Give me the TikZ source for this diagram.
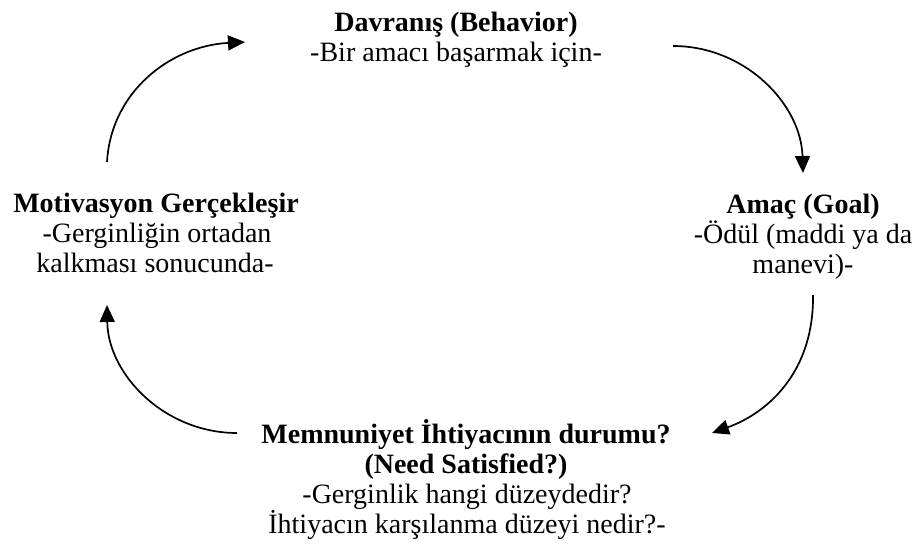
\documentclass[tikz,border=0pt]{standalone}
\usepackage{fontspec}
\setmainfont{Liberation Serif}
\usetikzlibrary{arrows.meta}
\tikzset{
  txt/.style={anchor=base, inner sep=0pt, font=\fontsize{28}{30}\selectfont},
  ttl/.style={txt, font=\fontsize{28}{30}\selectfont\bfseries},
  cyc/.style={line width=1.7pt, -{Triangle[length=17pt,width=15pt]}}
}
\begin{document}
\begin{tikzpicture}[x=1pt,y=-1pt]
\useasboundingbox (0,0) rectangle (920,552);
% top
\node[ttl] (t1) at (456,31) {Davranış (Behavior)};
\node[txt] (t2) at (456,61) {-Bir amacı başarmak için-};
% right
\node[ttl] (r1) at (803,213) {Amaç (Goal)};
\node[txt] (r2) at (803,243) {-Ödül (maddi ya da};
\node[txt] (r3) at (803,273) {manevi)-};
% bottom
\node[ttl] (b1) at (466,443) {Memnuniyet İhtiyacının durumu?};
\node[ttl] (b2) at (466,473) {(Need Satisfied?)};
\node[txt] (b3) at (467,503) {-Gerginlik hangi düzeydedir?};
\node[txt] (b4) at (467,533) {İhtiyacın karşılanma düzeyi nedir?-};
% left
\node[ttl] (l1) at (156,212) {Motivasyon Gerçekleşir};
\node[txt] (l2) at (157,242) {-Gerginliğin ortadan};
\node[txt] (l3) at (155,272) {kalkması sonucunda-};
% arrow end points
\coordinate (a1s) at (107,162);
\coordinate (a1e) at (245,42);
\coordinate (a2s) at (673,46);
\coordinate (a2e) at (803,173);
\coordinate (a3s) at (813,295);
\coordinate (a3e) at (712,433);
\coordinate (a4s) at (237,433);
\coordinate (a4e) at (107,305);
\draw[cyc] (a1s) .. controls (111,92) and (170,46) .. (a1e);
\draw[cyc] (a2s) .. controls (745,46) and (801,104) .. (a2e);
\draw[cyc] (a3s) .. controls (814,370) and (770,412) .. (a3e);
\draw[cyc] (a4s) .. controls (165,433) and (108,375) .. (a4e);
\end{tikzpicture}
\end{document}
